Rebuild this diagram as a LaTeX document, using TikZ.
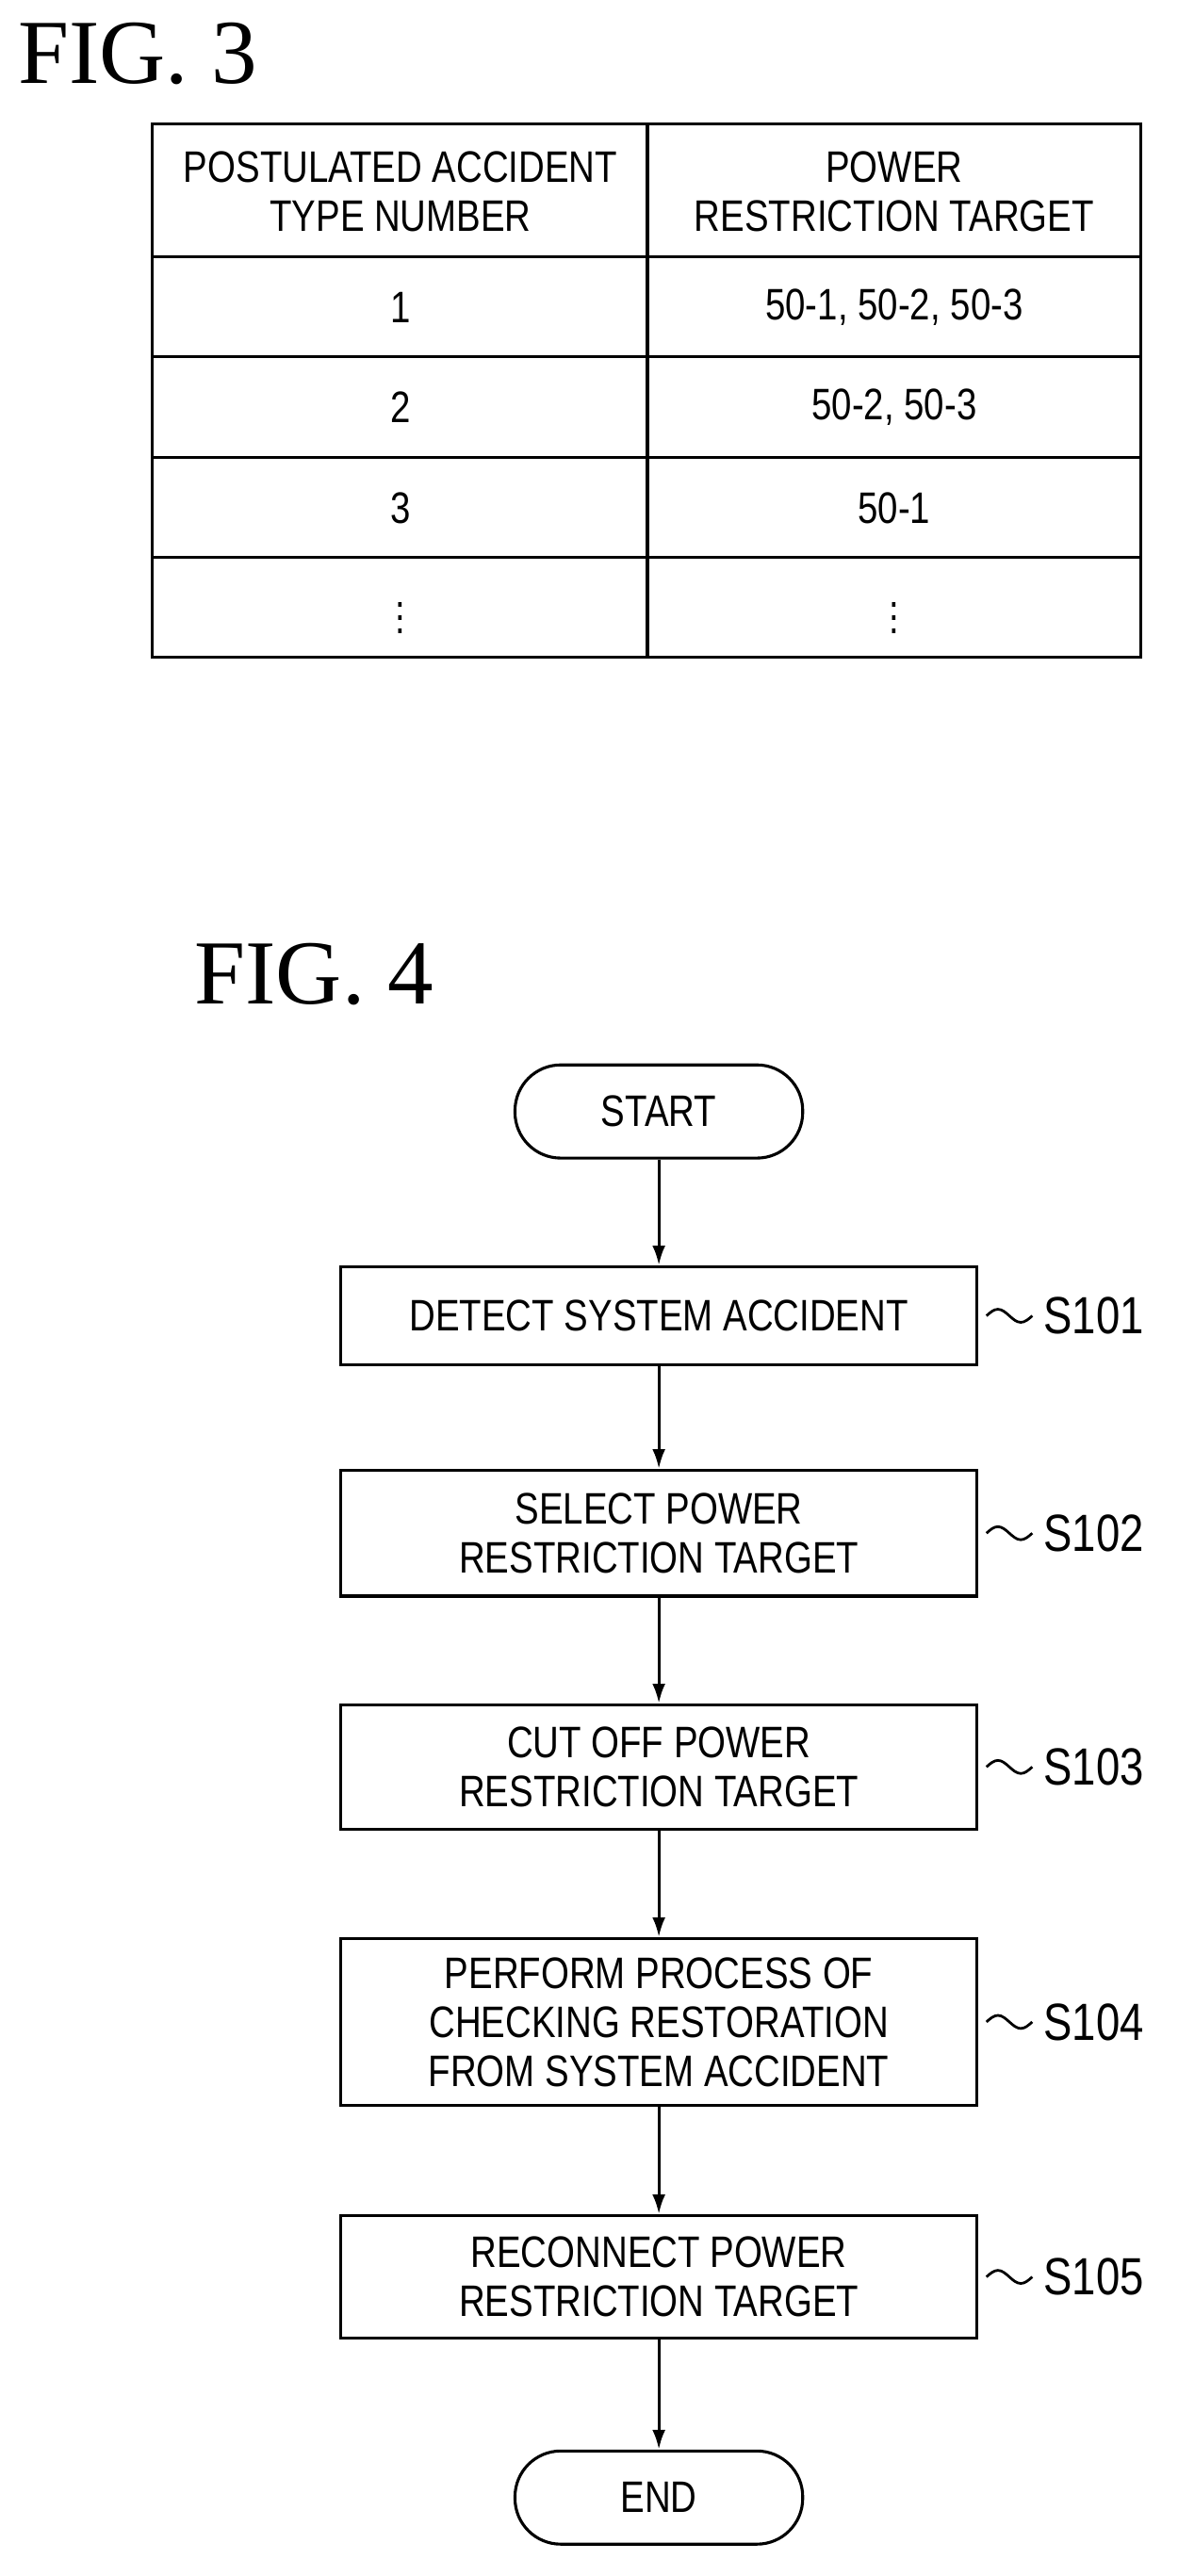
\documentclass[tikz,border=0pt]{standalone}
\usepackage{fontspec}
\setmainfont{Liberation Serif}
\newfontfamily\pfont[FakeStretch=0.82]{Liberation Sans}
\usetikzlibrary{positioning,calc,arrows.meta}
\tikzset{
  proc/.style={draw, line width=0.9pt, minimum width=194.5pt, align=center, font=\pfont\fontsize{13.5}{15}\selectfont},
  term/.style={draw, line width=0.9pt, rounded corners=14pt, minimum width=88pt, minimum height=28.5pt, font=\pfont\fontsize{13.5}{15}\selectfont},
  flow/.style={line width=0.9pt, -{Latex[length=6pt,width=4pt]}},
  tag/.style={font=\pfont\fontsize{16}{17}\selectfont, anchor=west},
  cell/.style={font=\pfont\fontsize{13.5}{15}\selectfont, align=center},
}
\newcommand{\wave}[1]{\draw[line width=0.8pt] ($(#1.east)+(5,0)$) sin ++(7,-4) cos ++(7,4) sin ++(7,4) cos ++(7,-4);}
\begin{document}
\begin{tikzpicture}[x=0.5pt,y=-0.5pt]
  \useasboundingbox (0,0) rectangle (720,1576);
  % FIG. 3
  \node[anchor=west, font=\fontsize{28}{30}\selectfont] (fig3) at (4,33) {FIG.\ 3};
  \draw[line width=0.9pt] (93,76) rectangle (698,402);
  \draw[line width=0.9pt] (396,76) -- (396,402);
  \foreach \y in {157,218,280,341} \draw[line width=0.9pt] (93,\y) -- (698,\y);
  \node[cell] (h1) at (245,117) {POSTULATED ACCIDENT\\TYPE NUMBER};
  \node[cell] (h2) at (547,117) {POWER\\RESTRICTION TARGET};
  \node[cell] (n1) at (245,188) {1};
  \node[cell] (t1) at (547,188) {50-1, 50-2, 50-3};
  \node[cell] (n2) at (245,249) {2};
  \node[cell] (t2) at (547,249) {50-2, 50-3};
  \node[cell] (n3) at (245,311) {3};
  \node[cell] (t3) at (547,311) {50-1};
  \node[cell] (n4) at (245,372) {$\vdots$};
  \node[cell] (t4) at (547,372) {$\vdots$};
  % FIG. 4
  \node[anchor=west, font=\fontsize{28}{30}\selectfont] (fig4) at (112,596) {FIG.\ 4};
  \node[term] (start) at (403,680) {START};
  \node[proc, minimum height=30pt] (s1) at (403,805) {DETECT SYSTEM ACCIDENT};
  \node[proc, minimum height=38.5pt] (s2) at (403,938) {SELECT POWER\\RESTRICTION TARGET};
  \node[proc, minimum height=38pt] (s3) at (403,1081) {CUT OFF POWER\\RESTRICTION TARGET};
  \node[proc, minimum height=51pt] (s4) at (403,1237) {PERFORM PROCESS OF\\CHECKING RESTORATION\\FROM SYSTEM ACCIDENT};
  \node[proc, minimum height=37.5pt] (s5) at (403,1393) {RECONNECT POWER\\RESTRICTION TARGET};
  \node[term] (end) at (403,1528) {END};
  \draw[flow] (start) -- (s1);
  \draw[flow] (s1) -- (s2);
  \draw[flow] (s2) -- (s3);
  \draw[flow] (s3) -- (s4);
  \draw[flow] (s4) -- (s5);
  \draw[flow] (s5) -- (end);
  \foreach \i in {1,...,5} {
    \wave{s\i}
    \node[tag] (l\i) at ($(s\i.east)+(33,0)$) {S10\i};
  }
\end{tikzpicture}
\end{document}
